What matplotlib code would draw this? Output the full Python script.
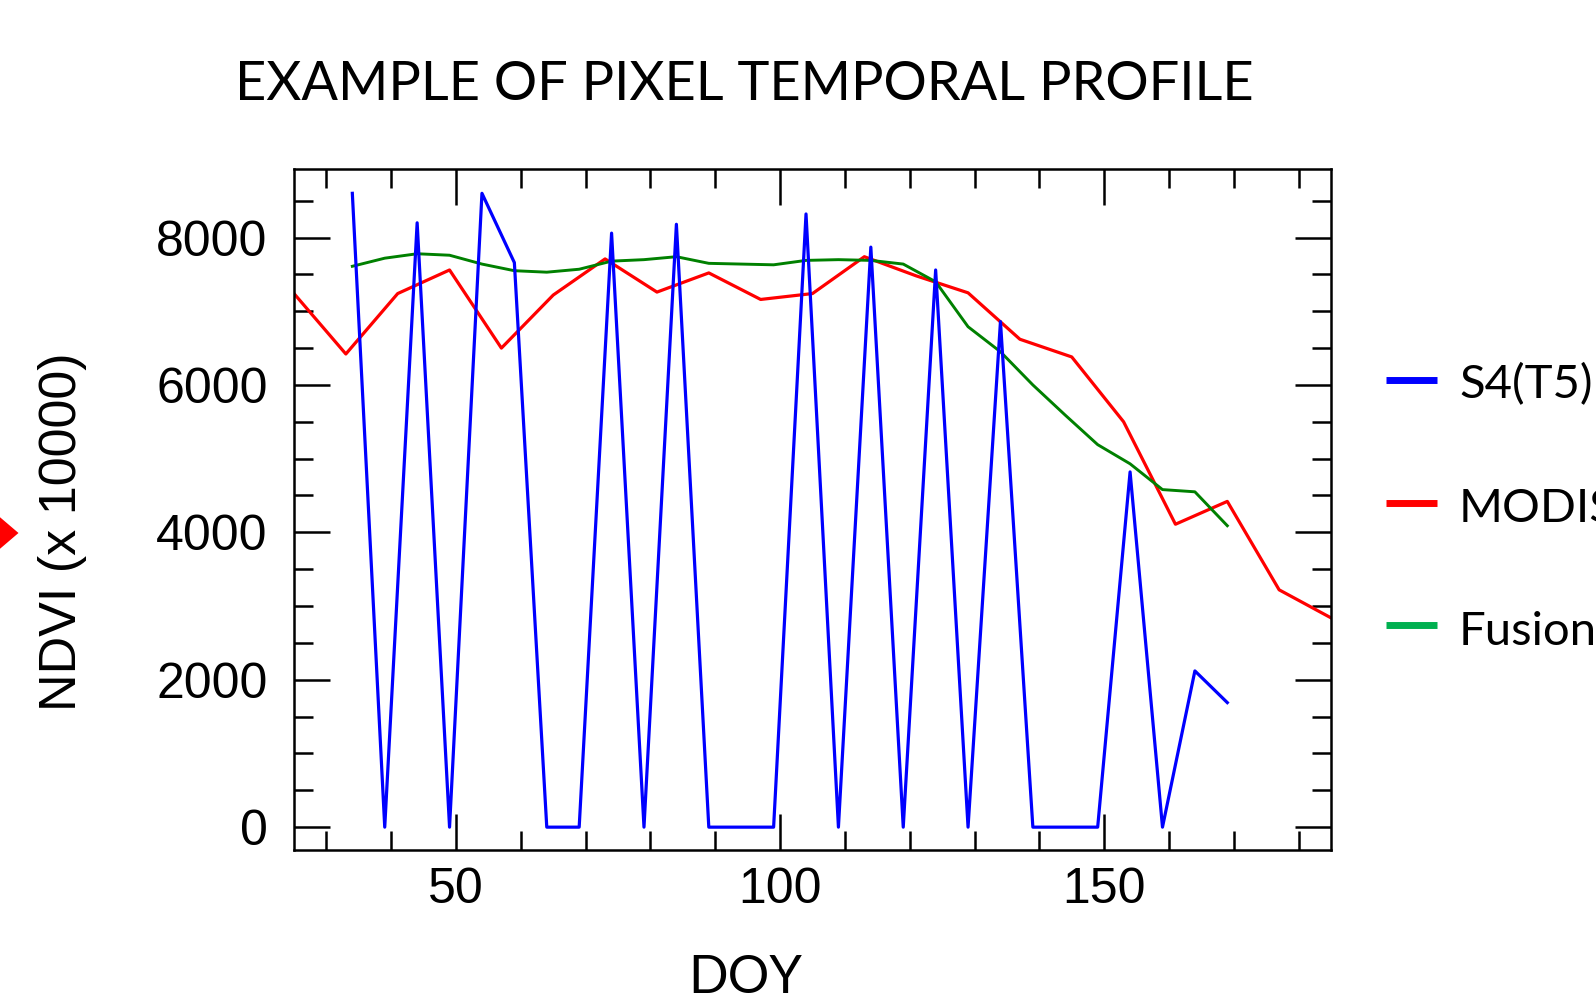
import matplotlib
matplotlib.use("Agg")
import matplotlib.pyplot as plt
from matplotlib.lines import Line2D
from matplotlib.patches import Polygon
from matplotlib.ticker import MultipleLocator

# ---- data ----
s4_days = [34, 39, 44, 49, 54, 59, 64, 69, 74, 79, 84, 89, 94, 99,
           104, 109, 114, 119, 124, 129, 134, 139, 144, 149, 154, 159, 164, 169]
s4_ndvi = [8600, 0, 8200, 0, 8600, 7660, 0, 0, 8060, 0, 8180, 0, 0, 0,
           8320, 0, 7870, 0, 7560, 0, 6860, 0, 0, 0, 4820, 0, 2120, 1690]

modis_days = [25, 33, 41, 49, 57, 65, 73, 81, 89, 97, 105, 113, 121, 129,
              137, 145, 153, 161, 169, 177, 185]
modis_ndvi = [7240, 6420, 7240, 7560, 6500, 7220, 7710, 7260, 7520, 7160,
              7240, 7740, 7480, 7250, 6620, 6380, 5500, 4110, 4420, 3220, 2840]

fusion_days = s4_days
fusion_ndvi = [7610, 7720, 7780, 7760, 7640, 7550, 7530, 7570, 7680, 7700,
               7740, 7650, 7640, 7630, 7690, 7700, 7690, 7640, 7400, 6790,
               6450, 6000, 5590, 5190, 4930, 4580, 4550, 4090]

x_ticks = [50, 100, 150]
y_ticks = [0, 2000, 4000, 6000, 8000]
legend_labels = ["S4(T5)", "MODIS", "Fusion"]
title_text = "EXAMPLE OF PIXEL TEMPORAL PROFILE"
xlabel_text = "DOY"
ylabel_text = "NDVI (x 10000)"

W, H = 1596, 1000
fig = plt.figure(figsize=(W / 100, H / 100), dpi=100)
fig.patch.set_facecolor("white")

def fx(px):
    return px / W

def fy(py):
    return 1 - py / H

ax_l, ax_r, ax_t, ax_b = 294, 1331, 169, 850
ax = fig.add_axes([fx(ax_l), fy(ax_b), fx(ax_r - ax_l), (ax_b - ax_t) / H])

BLUE = "#0000ff"
RED = "#ff0000"
GREEN = "#008000"

ax.plot(s4_days, s4_ndvi, color=BLUE, lw=2.3, zorder=3)
ax.plot(modis_days, modis_ndvi, color=RED, lw=2.3, zorder=2)
ax.plot(fusion_days, fusion_ndvi, color=GREEN, lw=2.1, zorder=2)

ax.set_xlim(25, 185)
ax.set_ylim(-310, 8930)
ax.set_xticks(x_ticks)
ax.set_yticks(y_ticks)
ax.xaxis.set_minor_locator(MultipleLocator(10))
ax.yaxis.set_minor_locator(MultipleLocator(500))

tick_font = "Liberation Sans"
ax.tick_params(which="both", direction="in", top=True, right=True,
               width=1.8, color="black")
ax.tick_params(which="major", length=26)
ax.tick_params(which="minor", length=13.5)
ax.tick_params(axis="y", which="major", pad=19)
ax.tick_params(axis="x", which="major", pad=12)
for lab in ax.get_xticklabels() + ax.get_yticklabels():
    lab.set_fontfamily(tick_font)
    lab.set_fontsize(36)
for sp in ax.spines.values():
    sp.set_linewidth(1.8)
    sp.set_color("black")

text_font = ["Lato", "DejaVu Sans"]
fig.text(fx(744), fy(100), title_text, ha="center", va="baseline",
         fontsize=39, family=text_font)
fig.text(fx(745), fy(993), xlabel_text, ha="center", va="baseline",
         fontsize=37.5, family=text_font)
fig.text(fx(63), fy(532), ylabel_text, ha="center", va="center",
         rotation=90, fontsize=37.5, family=tick_font)

# legend drawn manually (extends past the figure's right edge, as in the reference)
leg_colors = [BLUE, RED, "#00b050"]
leg_y = [380, 503, 625]
leg_base = [398, 522, 645]
for lbl, c, ly, lb in zip(legend_labels, leg_colors, leg_y, leg_base):
    fig.add_artist(Line2D([fx(1386), fx(1437)], [fy(ly), fy(ly)],
                          color=c, lw=5, solid_capstyle="butt"))
    fig.text(fx(1459), fy(lb), lbl, ha="left", va="baseline",
             fontsize=34, family=text_font)

# red arrow tip at the left edge
tri = Polygon([[fx(-12), fy(507)], [fx(18.5), fy(533)], [fx(-12), fy(559)]],
              closed=True, facecolor=RED, edgecolor="none",
              transform=fig.transFigure)
fig.add_artist(tri)

fig.savefig("out.png", dpi=100, facecolor="white")
